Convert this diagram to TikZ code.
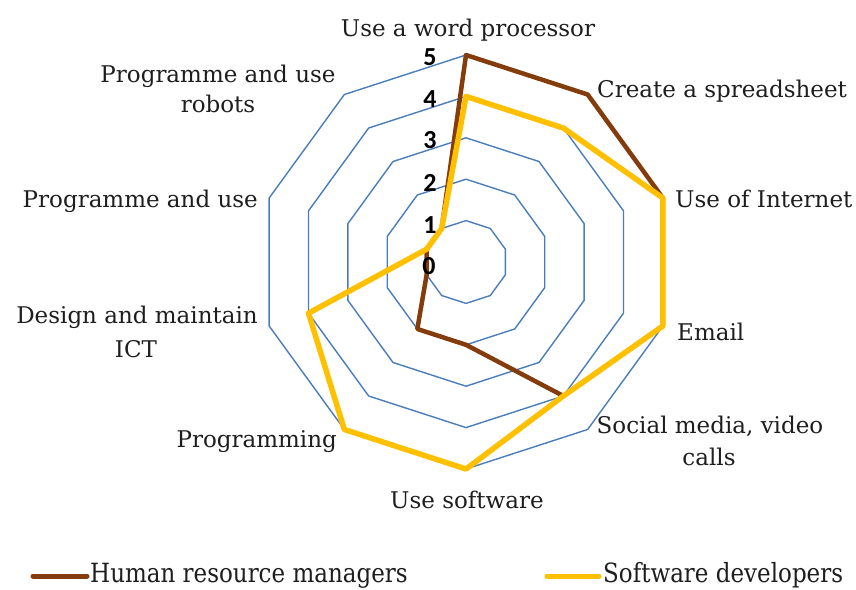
\documentclass[tikz,border=0pt]{standalone}
\usepackage{fontspec}
\setmainfont{DejaVu Serif}
\newfontfamily\numfont{Carlito}
\definecolor{ringblue}{RGB}{74,126,187}
\definecolor{hrbrown}{RGB}{132,60,12}
\definecolor{swyellow}{RGB}{255,192,0}
\definecolor{txt}{RGB}{30,30,30}
\begin{document}
\begin{tikzpicture}[x=1pt,y=-1pt,
  ring/.style={draw=ringblue,line width=1.4pt,line join=round},
  series/.style={line width=#1,line join=round,line cap=round},
  lbl/.style={font=\fontsize{23}{33}\selectfont,text=txt,inner sep=0pt,anchor=base},
  num/.style={font=\numfont\bfseries\fontsize{26}{26}\selectfont,inner sep=0pt,anchor=center},
  legline/.style={line width=5pt,line cap=round}]
\useasboundingbox (0,0) rectangle (856,589);
\fill[white] (0,0) rectangle (856,589);
\begin{scope}[shift={(466,262)}]
  \foreach \l in {1,...,5}{
    \draw[ring] (-90:41.4*\l) \foreach \i in {1,...,9}{ -- (-90+36*\i:41.4*\l) } -- cycle;
  }
  % Human resource managers
  \draw[hrbrown,series=4.5pt]
    (-90:5*41.4) -- (-54:5*41.4) -- (-18:5*41.4) -- (18:5*41.4) -- (54:4*41.4)
    -- (90:2*41.4) -- (126:2*41.4) -- (162:1*41.4) -- (198:1*41.4) -- (234:1*41.4) -- cycle;
  % Software developers
  \draw[swyellow,series=5.5pt]
    (-90:4*41.4) -- (-54:4*41.4) -- (-18:5*41.4) -- (18:5*41.4) -- (54:4*41.4)
    -- (90:5*41.4) -- (126:5*41.4) -- (162:4*41.4) -- (198:1*41.4) -- (234:1*41.4) -- cycle;
\end{scope}
% scale numbers
\node[num] (n5) at (430,57) {5};
\node[num] (n4) at (430,99) {4};
\node[num] (n3) at (430,140) {3};
\node[num] (n2) at (430,183) {2};
\node[num] (n1) at (430,225) {1};
\node[num] (n0) at (429,266) {0};
% category labels
\node[lbl] (l0) at (468,36) {Use a word processor};
\node[lbl,anchor=base west] (l1) at (597,97) {Create a spreadsheet};
\node[lbl,anchor=base west] (l2) at (675,207) {Use of Internet};
\node[lbl,anchor=base west] (l3) at (677,340) {Email};
\node[lbl] (l4a) at (710,433) {Social media, video};
\node[lbl] (l4b) at (709,465) {calls};
\node[lbl] (l5) at (467,508) {Use software};
\node[lbl,anchor=base east] (l6) at (337,447) {Programming};
\node[lbl] (l7a) at (137,323) {Design and maintain};
\node[lbl] (l7b) at (136,357) {ICT};
\node[lbl,anchor=base east] (l8) at (258,207) {Programme and use};
\node[lbl] (l9a) at (218,82) {Programme and use};
\node[lbl] (l9b) at (218,112) {robots};
% legend
\coordinate (hrA) at (33,576);
\coordinate (hrB) at (87,576);
\draw[hrbrown,legline] (hrA) -- (hrB);
\node[lbl,anchor=base west,yscale=1.15,transform shape] (hrT) at (90,582) {Human resource managers};
\coordinate (swA) at (547,576);
\coordinate (swB) at (599,576);
\draw[swyellow,legline] (swA) -- (swB);
\node[lbl,anchor=base west,yscale=1.15,transform shape] (swT) at (603,582) {Software developers};
\end{tikzpicture}
\end{document}
